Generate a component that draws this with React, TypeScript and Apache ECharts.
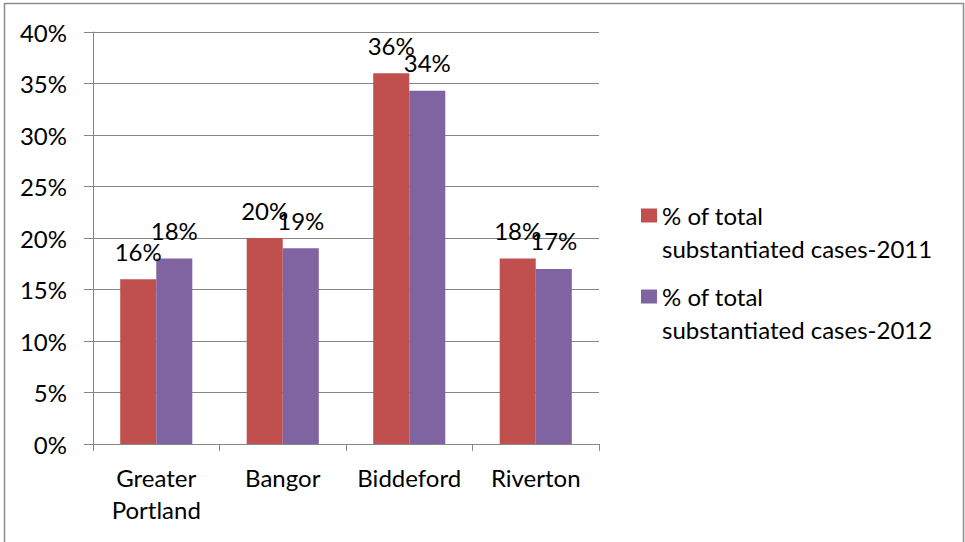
import React, { useEffect, useRef } from "react";
import * as echarts from "echarts";

// Regions and the share of all substantiated cases in each
const categories = ["Greater Portland", "Bangor", "Biddeford", "Riverton"];
const cases2011 = [0.16, 0.2, 0.36, 0.18];
const cases2012 = [0.18, 0.19, 0.343, 0.17];
const seriesNames = [
  "% of total substantiated cases-2011",
  "% of total substantiated cases-2012",
];
const seriesColors = ["#C0504D", "#8064A2"];

// Value axis: 0% to 40% in 5% steps
const yMin = 0;
const yMax = 0.4;
const yStep = 0.05;

const FONT = "Lato, 'Open Sans', sans-serif";
const GRAY = "#868686";

const pct = (v: number) => `${Math.round(v * 100)}%`;

export default function App() {
  const ref = useRef<HTMLDivElement | null>(null);

  useEffect(() => {
    document.body.style.margin = "0";
    if (!ref.current) return;
    const chart = echarts.init(ref.current, undefined, { renderer: "svg" });

    const barLabel = {
      show: true,
      position: "top" as const,
      distance: 16,
      fontFamily: FONT,
      fontSize: 24,
      lineHeight: 24,
      color: "#000",
      formatter: (p: any) => pct(p.value as number),
    };

    const legendFor = (name: string, top: number) => ({
      data: [name],
      left: 641,
      top,
      padding: 0,
      itemWidth: 16,
      itemHeight: 14,
      icon: "rect",
      selectedMode: false,
      // leading blank line keeps the swatch level with the first text line
      formatter: (n: string) => "\n" + n.replace(" substantiated", "\nsubstantiated"),
      textStyle: {
        fontFamily: FONT,
        fontSize: 24,
        lineHeight: 33,
        color: "#000",
      },
    });

    chart.setOption({
      animation: false,
      backgroundColor: "#fff",
      textStyle: { fontFamily: FONT },
      grid: {
        left: 93,
        right: 366,
        top: 32,
        bottom: 98,
        containLabel: false,
        outerBoundsMode: "none",
      },
      legend: [legendFor(seriesNames[0], 166), legendFor(seriesNames[1], 247)],
      xAxis: {
        type: "category",
        data: categories,
        axisLine: { show: true, lineStyle: { color: GRAY, width: 1 } },
        axisTick: { show: true, length: 7, lineStyle: { color: GRAY } },
        axisLabel: {
          margin: 17,
          fontFamily: FONT,
          fontSize: 24,
          lineHeight: 32,
          color: "#000",
          interval: 0,
          formatter: (v: string) => v.split(" ").join("\n"),
        },
      },
      yAxis: {
        type: "value",
        min: yMin,
        max: yMax,
        interval: yStep,
        axisLine: { show: true, lineStyle: { color: GRAY, width: 1 } },
        axisTick: { show: true, length: 9, lineStyle: { color: GRAY } },
        splitLine: { show: true, lineStyle: { color: GRAY, width: 1 } },
        axisLabel: {
          margin: 26,
          fontFamily: FONT,
          fontSize: 24,
          color: "#000",
          formatter: (v: number) => pct(v),
        },
      },
      series: [
        {
          name: seriesNames[0],
          type: "bar",
          data: cases2011,
          itemStyle: { color: seriesColors[0] },
          barGap: "0%",
          barCategoryGap: "43%",
          label: barLabel,
        },
        {
          name: seriesNames[1],
          type: "bar",
          data: cases2012,
          itemStyle: { color: seriesColors[1] },
          barGap: "0%",
          barCategoryGap: "43%",
          label: barLabel,
        },
      ],
      graphic: [
        {
          type: "rect",
          silent: true,
          shape: { x: 4.5, y: 3.5, width: 959, height: 600 },
          style: { fill: "none", stroke: "#8c8c8c", lineWidth: 1.5 },
        },
      ],
    });

    return () => chart.dispose();
  }, []);

  return <div ref={ref} style={{ width: 965, height: 542 }} />;
}
